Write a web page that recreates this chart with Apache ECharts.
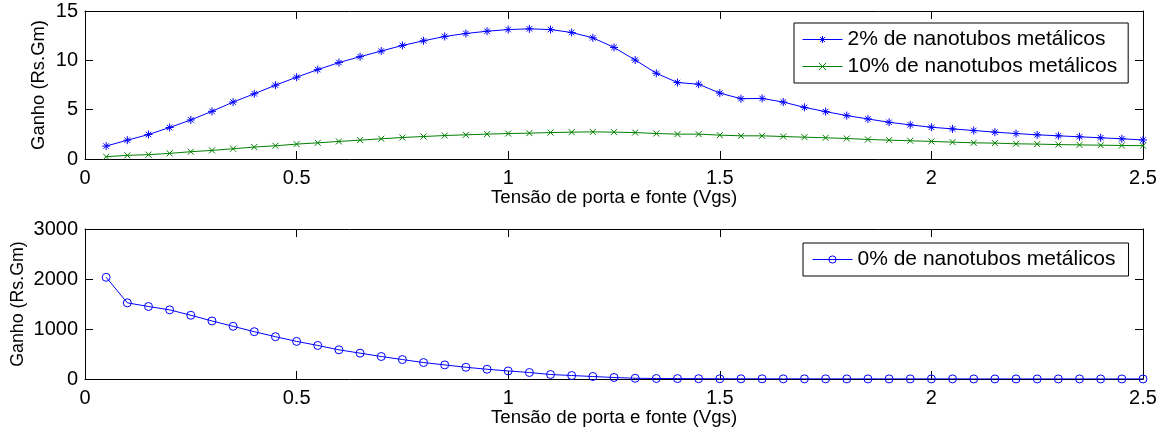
<!DOCTYPE html>
<html>
<head>
<meta charset="utf-8">
<script src="https://cdn.jsdelivr.net/npm/echarts@6/dist/echarts.min.js"></script>
<style>
html,body{margin:0;padding:0;background:#fff;}
#c{width:1166px;height:432px;}
</style>
</head>
<body>
<div id="c"></div>
<script>
var vgs = [0.05,0.1,0.15,0.2,0.25,0.3,0.35,0.4,0.45,0.5,
           0.55,0.6,0.65,0.7,0.75,0.8,0.85,0.9,0.95,1.0,
           1.05,1.1,1.15,1.2,1.25,1.3,1.35,1.4,1.45,1.5,
           1.55,1.6,1.65,1.7,1.75,1.8,1.85,1.9,1.95,2.0,
           2.05,2.1,2.15,2.2,2.25,2.3,2.35,2.4,2.45,2.5];
var ganho2 = [1.31,1.91,2.48,3.19,3.96,4.83,5.77,6.61,7.48,8.29,
              9.06,9.77,10.37,10.94,11.51,11.98,12.42,12.72,12.95,13.12,
              13.19,13.12,12.82,12.28,11.31,10.03,8.69,7.75,7.58,6.68,
              6.11,6.14,5.77,5.23,4.80,4.40,4.06,3.72,3.46,3.22,
              3.05,2.89,2.72,2.58,2.45,2.35,2.25,2.15,2.05,1.93];
var ganho10 = [0.23,0.37,0.44,0.57,0.74,0.87,1.04,1.21,1.34,1.51,
               1.64,1.78,1.91,2.05,2.18,2.28,2.38,2.45,2.52,2.58,
               2.62,2.68,2.72,2.75,2.72,2.68,2.58,2.52,2.52,2.42,
               2.35,2.35,2.28,2.21,2.15,2.08,1.98,1.91,1.85,1.78,
               1.71,1.64,1.61,1.54,1.51,1.46,1.43,1.40,1.37,1.35];
var ganho0 = [2034,1523,1450,1383,1275,1161,1054,946,846,752,
              671,584,517,450,389,329,282,235,195,161,
              130,90,70,50,30,15,10,8,6,5,
              4,4,3,3,3,2,2,2,2,2,
              2,1,1,1,1,1,1,1,1,1];
var names = ['2% de nanotubos metálicos','10% de nanotubos metálicos','0% de nanotubos metálicos'];
var xTitle = 'Tensão de porta e fonte (Vgs)';
var yTitle = 'Ganho (Rs.Gm)';

var FONT = '"Liberation Sans", Arial, Helvetica, sans-serif';
var starPath = 'path://M5 0L5 10M0 5L10 5M1.6 1.6L8.4 8.4M8.4 1.6L1.6 8.4';
var xPath = 'path://M0 0L10 10M10 0L0 10';

function pairs(ys){ return vgs.map(function(x,i){ return [x, ys[i]]; }); }

function xAx(grid, bottom){
  return {
    type:'value', gridIndex:grid, min:0, max:2.5, interval:0.5,
    position: bottom ? 'bottom' : 'top',
    name: bottom ? xTitle : '', nameLocation:'middle', nameGap:29, nameMoveOverlap:false,
    nameTextStyle:{color:'#000', fontFamily:FONT, fontSize:18.7},
    axisLine:{show:true, onZero:false, lineStyle:{color:'#000', width:1}},
    axisTick:{show:true, inside:true, length:8, lineStyle:{color:'#000'}},
    axisLabel:{show:bottom, color:'#000', fontFamily:FONT, fontSize:20, margin:9,
               formatter:function(v){return String(v);}},
    splitLine:{show:false}
  };
}
function yAx(grid, left, max, interval, gap, tfs, lfs){
  return {
    type:'value', gridIndex:grid, min:0, max:max, interval:interval,
    position: left ? 'left' : 'right',
    name: left ? yTitle : '', nameLocation:'middle', nameGap:gap, nameRotate:90,
    nameMoveOverlap:false,
    nameTextStyle:{color:'#000', fontFamily:FONT, fontSize:tfs},
    axisLine:{show:true, onZero:false, lineStyle:{color:'#000', width:1}},
    axisTick:{show:true, inside:true, length:8, lineStyle:{color:'#000'}},
    axisLabel:{show:left, color:'#000', fontFamily:FONT, fontSize:lfs, margin:7,
               formatter:function(v){return String(v);}},
    splitLine:{show:false}
  };
}

var legendCommon = {
  orient:'vertical', backgroundColor:'#fff', borderColor:'#000', borderWidth:1,
  itemWidth:40, itemHeight:9,
  lineStyle:{width:1},
  itemStyle:{borderWidth:1},
  textStyle:{color:'#000', fontFamily:FONT, fontSize:21, lineHeight:21}
};

var chart = echarts.init(document.getElementById('c'), null, {renderer:'canvas'});
chart.setOption({
  animation:false,
  backgroundColor:'#fff',
  grid:[
    {left:85, right:23, top:11, height:148, containLabel:false, outerBoundsMode:'none'},
    {left:85, right:23, top:229, height:150, containLabel:false, outerBoundsMode:'none'}
  ],
  xAxis:[xAx(0,true), xAx(0,false), xAx(1,true), xAx(1,false)],
  yAxis:[yAx(0,true,15,5,37,18.4,20), yAx(0,false,15,5,37,18.4,20),
         yAx(1,true,3000,1000,58,17.8,20), yAx(1,false,3000,1000,58,17.8,20)],
  legend:[
    Object.assign({}, legendCommon, {
      data:[names[0], names[1]], left:794, top:23,
      padding:[6,11,6,8], itemGap:6
    }),
    Object.assign({}, legendCommon, {
      data:[names[2]], left:803, top:243,
      padding:[6,13,6,9]
    })
  ],
  series:[
    {
      name:names[0], type:'line', xAxisIndex:0, yAxisIndex:0,
      data:pairs(ganho2), symbol:starPath, symbolSize:8, showAllSymbol:true,
      lineStyle:{color:'#0000ff', width:1},
      itemStyle:{color:'#0000ff', borderColor:'#0000ff', borderWidth:1}
    },
    {
      name:names[1], type:'line', xAxisIndex:0, yAxisIndex:0,
      data:pairs(ganho10), symbol:xPath, symbolSize:6, showAllSymbol:true,
      lineStyle:{color:'#008000', width:1},
      itemStyle:{color:'#008000', borderColor:'#008000', borderWidth:1}
    },
    {
      name:names[2], type:'line', xAxisIndex:2, yAxisIndex:2,
      data:pairs(ganho0), symbol:'circle', symbolSize:8, showAllSymbol:true,
      lineStyle:{color:'#0000ff', width:1},
      itemStyle:{color:'rgba(0,0,0,0)', borderColor:'#0000ff', borderWidth:1}
    }
  ]
});
</script>
</body>
</html>
